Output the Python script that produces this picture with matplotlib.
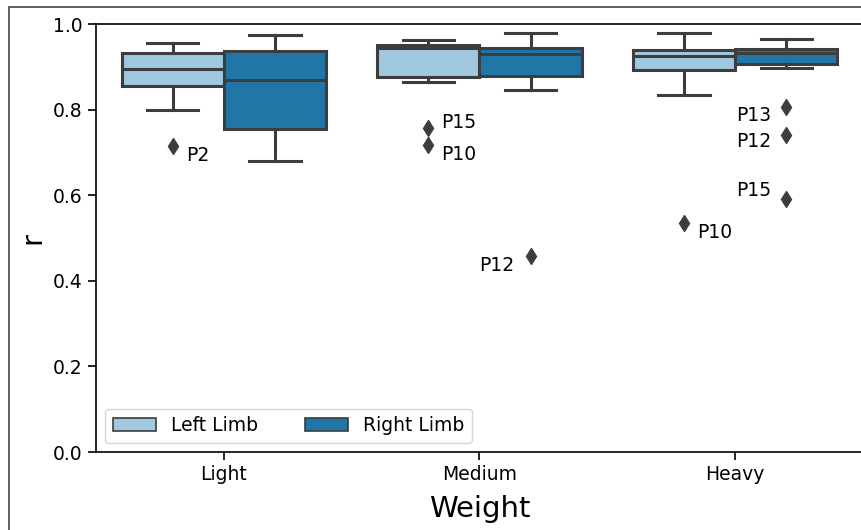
import numpy as np
import matplotlib.pyplot as plt
from matplotlib.patches import Rectangle, Patch

categories = ['Light', 'Medium', 'Heavy']
series = ['Left Limb', 'Right Limb']
colors = ['#a0c8de', '#2176a8']

# whislo, q1, median, q3, whishi per category
left_stats = [
    [0.800, 0.855, 0.896, 0.933, 0.955],
    [0.865, 0.876, 0.945, 0.950, 0.962],
    [0.835, 0.892, 0.925, 0.939, 0.978],
]
right_stats = [
    [0.680, 0.755, 0.869, 0.937, 0.974],
    [0.845, 0.879, 0.929, 0.945, 0.978],
    [0.898, 0.907, 0.932, 0.941, 0.964],
]
left_fliers = [[0.714], [0.756, 0.717], [0.535]]
right_fliers = [[], [0.457], [0.807, 0.740, 0.590]]
left_flier_labels = [['P2'], ['P15', 'P10'], ['P10']]
right_flier_labels = [[], ['P12'], ['P13', 'P12', 'P15']]

# label offsets in pixels (dx, dy, ha)
left_offsets = [[(13, -9, 'left')], [(13, 6, 'left'), (13, -9, 'left')], [(13, -9, 'left')]]
right_offsets = [[], [(-16, -9, 'right')], [(-15, -9, 'right'), (-15, -6, 'right'), (-15, 9, 'right')]]

fig = plt.figure(figsize=(8.62, 5.30), dpi=100)
ax = fig.add_axes([96 / 862, 78 / 530, 767 / 862, 428 / 530])

line_c = '#3d3d3d'
lw = 2.2


def make_stats(rows, fliers):
    out = []
    for r, f in zip(rows, fliers):
        out.append(dict(whislo=r[0], q1=r[1], med=r[2], q3=r[3], whishi=r[4], fliers=f))
    return out


x = np.arange(len(categories))
for stats, fl, off, col in [(left_stats, left_fliers, -0.2, colors[0]),
                            (right_stats, right_fliers, 0.2, colors[1])]:
    ax.bxp(make_stats(stats, fl), positions=x + off, widths=0.4, patch_artist=True,
           showfliers=True,
           boxprops=dict(facecolor=col, edgecolor=line_c, linewidth=lw),
           medianprops=dict(color=line_c, linewidth=lw),
           whiskerprops=dict(color=line_c, linewidth=lw),
           capprops=dict(color=line_c, linewidth=lw),
           flierprops=dict(marker='d', markerfacecolor=line_c, markeredgecolor=line_c,
                           markersize=8, linestyle='none'),
           capwidths=0.2)

for fls, labs, offs, dx in [(left_fliers, left_flier_labels, left_offsets, -0.2),
                            (right_fliers, right_flier_labels, right_offsets, 0.2)]:
    for i in range(len(categories)):
        for v, lab, o in zip(fls[i], labs[i], offs[i]):
            ax.annotate(lab, (i + dx, v), xytext=(o[0], o[1]), textcoords='offset pixels',
                        ha=o[2], va='center', fontsize=13.5)

ax.set_xlim(-0.5, 2.5)
ax.set_ylim(0, 1.0)
ax.set_xticks(x)
ax.set_xticklabels(categories)
ax.set_yticks([0.0, 0.2, 0.4, 0.6, 0.8, 1.0])
ax.tick_params(labelsize=13.5, length=6, width=1.2)
for s in ax.spines.values():
    s.set_linewidth(1.2)
ax.set_xlabel('Weight', fontsize=21, labelpad=8)
ax.set_ylabel('r', fontsize=21, labelpad=5)

handles = [Patch(facecolor=c, edgecolor=line_c, linewidth=1.2) for c in colors]
ax.legend(handles, series, loc='lower left', ncol=2, fontsize=13.5,
          handlelength=2.3, columnspacing=2.5, borderaxespad=0.5)

# outer frame of the picture
fig.patches.append(Rectangle((9 / 862, -0.05), 1.1, 0.05 + 523 / 530, transform=fig.transFigure,
                             fill=False, edgecolor='#444444', linewidth=1.2))

fig.savefig('out.png', dpi=100)
